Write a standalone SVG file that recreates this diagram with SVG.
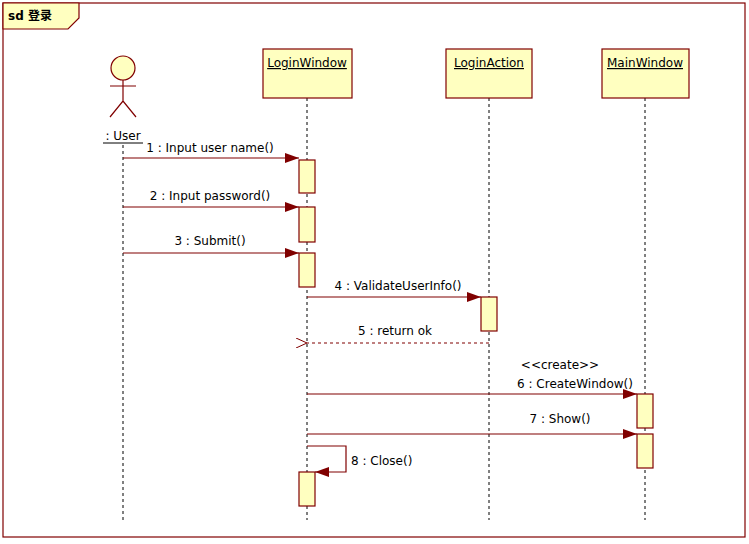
<svg xmlns="http://www.w3.org/2000/svg" width="749" height="544" viewBox="0 0 749 544">
<style>
text{font-family:Tahoma,"DejaVu Sans","Noto Sans CJK SC",sans-serif;font-size:12px;fill:#000}
.box{fill:#ffffc0;stroke:#800000;stroke-width:1.2}
.life{stroke:#000;stroke-width:1;stroke-dasharray:3,3}
.msg{stroke:#800000;stroke-width:1.2;fill:none}
.act{fill:#ffffc0;stroke:#800000;stroke-width:1.2}
</style>
<defs>
<marker id="a" markerWidth="14" markerHeight="10" refX="14" refY="5" orient="auto" markerUnits="userSpaceOnUse"><path d="M0,0L14,5L0,10z" fill="#800000"/></marker>
<marker id="o" markerWidth="12" markerHeight="10" refX="1" refY="5" orient="auto" markerUnits="userSpaceOnUse"><path d="M12,0L1,5L12,10" fill="none" stroke="#800000"/></marker>
</defs>
<rect width="749" height="544" fill="#fff"/>
<g id="frame">
<rect x="3" y="3" width="742" height="534" fill="none" stroke="#800000" stroke-width="1.2"/>
<path d="M3,3H79V18L68,29H3z" fill="#ffffc0" stroke="#800000" stroke-width="1.2"/>
<text x="8" y="20" style="font-weight:bold">sd 登录</text>
</g>
<g id="user">
<line class="life" x1="123" y1="145" x2="123" y2="520"/>
<circle cx="123" cy="68" r="12" class="box"/>
<path d="M123,80V101M110,86H136M110,117L123,101L136,117" stroke="#800000" fill="none" stroke-width="1.2"/>
<text x="123" y="140" text-anchor="middle">: User</text>
<line x1="103" y1="143" x2="143" y2="143" stroke="#000"/>
</g>
<g id="loginwindow">
<line class="life" x1="307" y1="98" x2="307" y2="520"/>
<rect x="263" y="49" width="89" height="49" class="box"/>
<text x="307" y="67" text-anchor="middle" text-decoration="underline">LoginWindow</text>
<rect x="299" y="160" width="16" height="33" class="act"/>
<rect x="299" y="207" width="16" height="35" class="act"/>
<rect x="299" y="253" width="16" height="34" class="act"/>
<rect x="299" y="472" width="16" height="34" class="act"/>
</g>
<g id="loginaction">
<line class="life" x1="489" y1="98" x2="489" y2="520"/>
<rect x="446" y="49" width="86" height="49" class="box"/>
<text x="489" y="67" text-anchor="middle" text-decoration="underline">LoginAction</text>
<rect x="481" y="297" width="16" height="34" class="act"/>
</g>
<g id="mainwindow">
<line class="life" x1="645" y1="98" x2="645" y2="520"/>
<rect x="602" y="49" width="87" height="49" class="box"/>
<text x="645" y="67" text-anchor="middle" text-decoration="underline">MainWindow</text>
<rect x="637" y="394" width="16" height="34" class="act"/>
<rect x="637" y="434" width="16" height="34" class="act"/>
</g>
<g id="connectors">
<line class="msg" x1="123" y1="158" x2="299" y2="158" marker-end="url(#a)"/>
<text x="210" y="152" text-anchor="middle">1 : Input user name()</text>
<line class="msg" x1="123" y1="207" x2="299" y2="207" marker-end="url(#a)"/>
<text x="210" y="200" text-anchor="middle">2 : Input password()</text>
<line class="msg" x1="123" y1="253" x2="299" y2="253" marker-end="url(#a)"/>
<text x="210" y="245" text-anchor="middle">3 : Submit()</text>
<line class="msg" x1="307" y1="297" x2="481" y2="297" marker-end="url(#a)"/>
<text x="398" y="290" text-anchor="middle">4 : ValidateUserInfo()</text>
<line class="msg" x1="489" y1="343" x2="307" y2="343" stroke-dasharray="3,3" marker-end="url(#o)"/>
<text x="395" y="335" text-anchor="middle">5 : return ok</text>
<text x="560" y="369" text-anchor="middle">&lt;&lt;create&gt;&gt;</text>
<line class="msg" x1="307" y1="394" x2="637" y2="394" marker-end="url(#a)"/>
<text x="575" y="388" text-anchor="middle">6 : CreateWindow()</text>
<line class="msg" x1="307" y1="434" x2="637" y2="434" marker-end="url(#a)"/>
<text x="560" y="423" text-anchor="middle">7 : Show()</text>
<path class="msg" d="M307,446H346V472H315" marker-end="url(#a)"/>
<text x="351" y="465">8 : Close()</text>
</g>
</svg>
